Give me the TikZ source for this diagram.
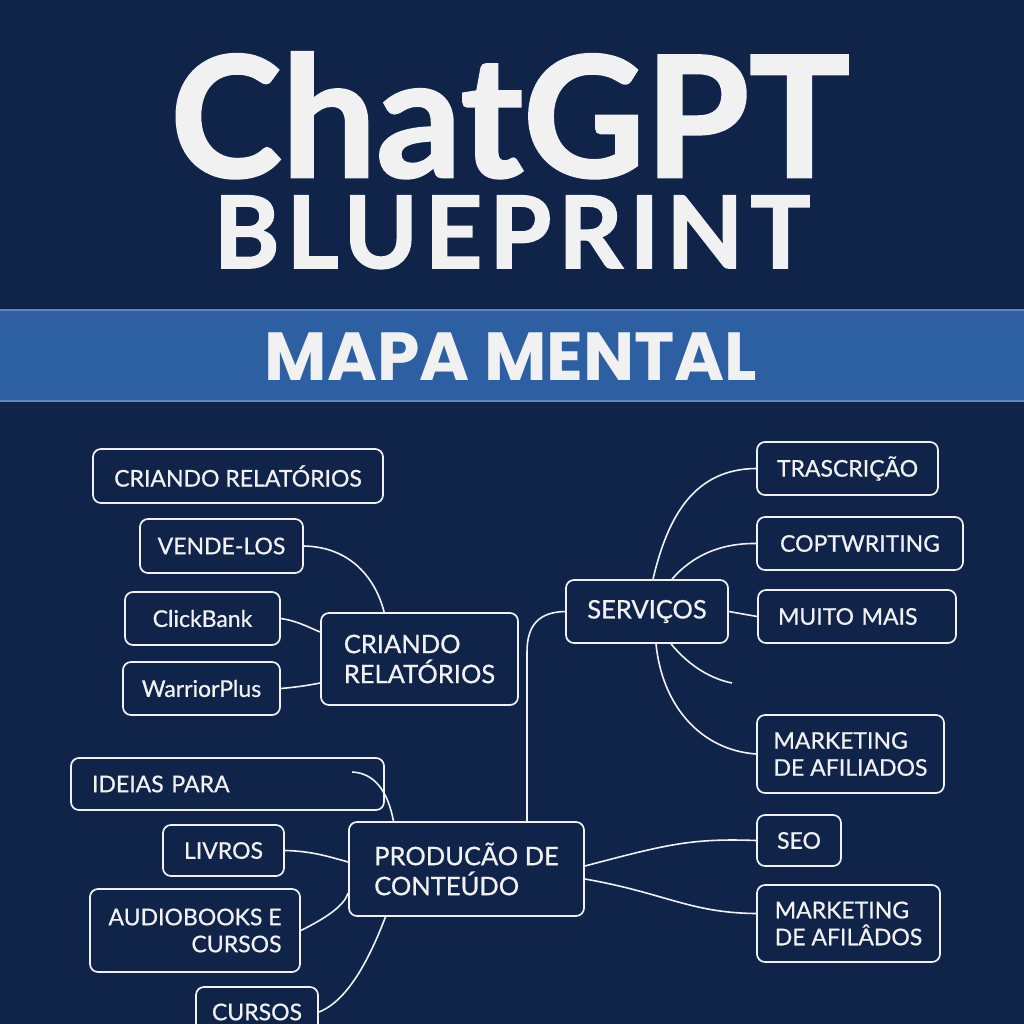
\documentclass[tikz,border=0pt]{standalone}
\usepackage{fontspec}
\setmainfont{Lato}
\newfontfamily\headfont{Lato}[FakeBold=1.6]
\newfontfamily\bandfont{Poppins}
\newfontfamily\boxfont{Lato}[FakeBold=0.7]
\usetikzlibrary{positioning}

\definecolor{navy}{HTML}{10244A}
\definecolor{bandblue}{HTML}{2D5FA3}
\definecolor{inkwhite}{HTML}{F1F1F1}

\begin{document}
\begin{tikzpicture}[
            x=1pt, y=-1pt,
            mapbox/.style={rectangle, rounded corners=8pt, draw=inkwhite, line width=1.7pt, fill=navy, text=inkwhite,
                           font=\boxfont\fontsize{23}{27}\selectfont, align=center, inner sep=0pt},
            hubbox/.style={mapbox, font=\boxfont\fontsize{25.5}{30}\selectfont},
            headline/.style={text=inkwhite, anchor=base, inner sep=0pt},
            link/.style={draw=inkwhite, line width=1.6pt},
        ]

        % Background and header.
        \useasboundingbox (0,0) rectangle (1024,1024);
        \fill[navy] (0,0) rectangle (1024,1024);
        \fill[bandblue] (0,309) rectangle (1024,402);
        \draw[bandblue!75!white, line width=1.2pt] (0,310) -- (1024,310);
        \draw[bandblue!75!white, line width=1.2pt] (0,401) -- (1024,401);

        \node[headline, font=\headfont\bfseries\fontsize{168}{170}\selectfont] (title) at (510,177) {ChatGPT};
        \node[headline, font=\headfont\bfseries\addfontfeature{LetterSpace=7}\fontsize{100}{104}\selectfont] (subtitle) at (512,268) {BLUEPRINT};
        \node[headline, font=\bandfont\bfseries\fontsize{68}{72}\selectfont] (band) at (511,380) {MAPA MENTAL};

        % Nodes.
        \node[mapbox, minimum width=290pt, minimum height=54pt] (relatorios_top) at (238,476)   {CRIANDO RELATÓRIOS};
        \node[mapbox, minimum width=163pt, minimum height=54pt] (vendelos)       at (221.5,546) {VENDE-LOS};
        \node[mapbox, minimum width=155pt, minimum height=53pt] (clickbank)      at (202.5,618.5) {ClickBank};
        \node[mapbox, minimum width=157pt, minimum height=53pt] (warriorplus)    at (201.5,688.5) {WarriorPlus};
        \node[hubbox, minimum width=197pt, minimum height=92pt, align=left] (relatorios) at (419.5,659) {CRIANDO\\RELATÓRIOS};

        \node[hubbox, minimum width=162pt, minimum height=63pt] (servicos)       at (647,611.5) {SERVIÇOS};
        \node[mapbox, minimum width=181pt, minimum height=53pt] (trascricao)     at (847.5,468.5) {TRASCRIÇÃO};
        \node[mapbox, minimum width=206pt, minimum height=53pt] (coptwriting)    at (860,543.5) {COPTWRITING};
        \node[mapbox, minimum width=198pt, minimum height=53pt, text width=158pt, align=left] (muito_mais) at (857,616.5) {MUITO MAIS};
        \node[mapbox, minimum width=187pt, minimum height=78pt, align=left] (afiliados) at (850.5,754) {MARKETING\\DE AFILIADOS};

        \node[mapbox, minimum width=313pt, minimum height=52pt, text width=271pt, align=left] (ideias) at (227.5,784) {IDEIAS PARA};
        \node[mapbox, minimum width=121pt, minimum height=51pt] (livros)         at (223.5,850.5) {LIVROS};
        \node[mapbox, minimum width=210pt, minimum height=83pt, align=right] (audiobooks) at (195,930.5) {AUDIOBOOKS E\\CURSOS};
        \node[mapbox, minimum width=122pt, minimum height=50pt] (cursos)         at (257,1012) {CURSOS};
        \node[hubbox, minimum width=235pt, minimum height=94pt, align=left] (producao) at (466.5,869) {PRODUCÃO DE\\CONTEÚDO};

        \node[mapbox, minimum width=84pt, minimum height=51pt]  (seo)            at (799,840.5) {SEO};
        \node[mapbox, minimum width=183pt, minimum height=77pt, align=left] (afilados) at (848.5,923.5) {MARKETING\\DE AFILÂDOS};

        % Free ends.
        \coordinate (loose_end)  at (732,683);
        \coordinate (ideias_end) at (352,772);

        % Lines.
        \draw[link] (vendelos.east) .. controls (352,547) and (376,580) .. ([xshift=64pt]relatorios.north west);
        \draw[link] (clickbank.east) .. controls (298,621) and (310,628) .. ([yshift=27pt]relatorios.west);
        \draw[link] (warriorplus.east) .. controls (298,687) and (310,685) .. ([yshift=-24pt]relatorios.west);

        \draw[link] (servicos.west) .. controls (540,612) and (527,624) .. (527,652) -- ([xshift=60.5pt]producao.north);
        \draw[link] ([xshift=6pt]servicos.north) .. controls (668,515) and (695,469) .. (trascricao.west);
        \draw[link] ([xshift=25pt]servicos.north) .. controls (692,556) and (720,543) .. (coptwriting.west);
        \draw[link] (servicos.east) -- (muito_mais.west);
        \draw[link] ([xshift=24pt]servicos.south) .. controls (690,667) and (712,679) .. (loose_end);
        \draw[link] ([xshift=9pt]servicos.south) .. controls (662,705) and (700,750) .. (afiliados.west);

        \draw[link] ([xshift=-73pt]producao.north) .. controls (388,792) and (375,773) .. (ideias_end);
        \draw[link] (livros.east) .. controls (312,851) and (330,857) .. ([yshift=7pt]producao.west);
        \draw[link] (audiobooks.east) .. controls (326,918) and (344,906) .. ([yshift=-24pt]producao.west);
        \draw[link] (cursos.east) .. controls (350,1000) and (372,952) .. ([xshift=-81pt]producao.south);
        \draw[link] ([yshift=3pt]producao.east) .. controls (665,845) and (690,838) .. (seo.west);
        \draw[link] ([yshift=-10pt]producao.east) .. controls (665,893) and (690,913) .. ([yshift=10pt]afilados.west);
    \end{tikzpicture}
\end{document}
